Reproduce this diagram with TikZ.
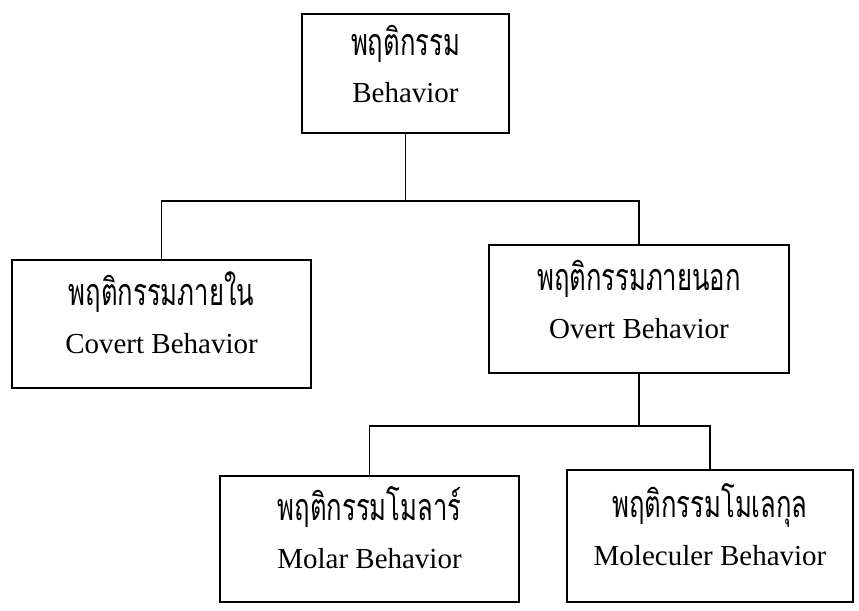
\documentclass[tikz,border=0pt]{standalone}
\usepackage{fontspec}
\setmainfont{Liberation Serif}
\newfontfamily\thaifont[Script=Thai,Scale=1.3,FakeStretch=0.68]{Loma}
\usepackage{tikz}
\usetikzlibrary{positioning}
% Thai name over English name
\newcommand{\bilabel}[2]{\raisebox{0pt}[12pt][0pt]{\thaifont #1}\\#2\rule[-6pt]{0pt}{0pt}}
\tikzset{
  behbox/.style={
    draw=black,
    line width=1pt,
    fill=white,
    align=center,
    inner sep=2pt,
    font=\fontsize{16.5}{27}\selectfont
  },
  link/.style={
    line width=1pt,
    black
  }
}

\begin{document}
\begin{tikzpicture}[x=0.02cm,y=-0.02cm]
\useasboundingbox (0,0) rectangle (859,610);
\node[behbox, minimum width=207*0.02cm, minimum height=119*0.02cm] (beh) at (405.5,73.5) {\bilabel{พฤติกรรม}{Behavior}};
\node[behbox, minimum width=299*0.02cm, minimum height=128*0.02cm] (covert) at (161.5,324) {\bilabel{พฤติกรรมภายใน}{Covert Behavior}};
\node[behbox, minimum width=300*0.02cm, minimum height=128*0.02cm] (overt) at (639,309) {\bilabel{พฤติกรรมภายนอก}{Overt Behavior}};
\node[behbox, minimum width=299*0.02cm, minimum height=126*0.02cm] (molar) at (369.5,539) {\bilabel{พฤติกรรมโมลาร์}{Molar Behavior}};
\node[behbox, minimum width=286*0.02cm, minimum height=132*0.02cm] (molec) at (710,536) {\bilabel{พฤติกรรมโมเลกุล}{Moleculer Behavior}};
% first level
\draw[link] (beh.south) -- ++(0,67) coordinate (split1);
\draw[link] (covert.north) |- (split1) -| (overt.north);
% second level
\draw[link] (overt.south) -- ++(0,52) coordinate (split2);
\draw[link] (molar.north) |- (split2) -| (molec.north);
\end{tikzpicture}
\end{document}
